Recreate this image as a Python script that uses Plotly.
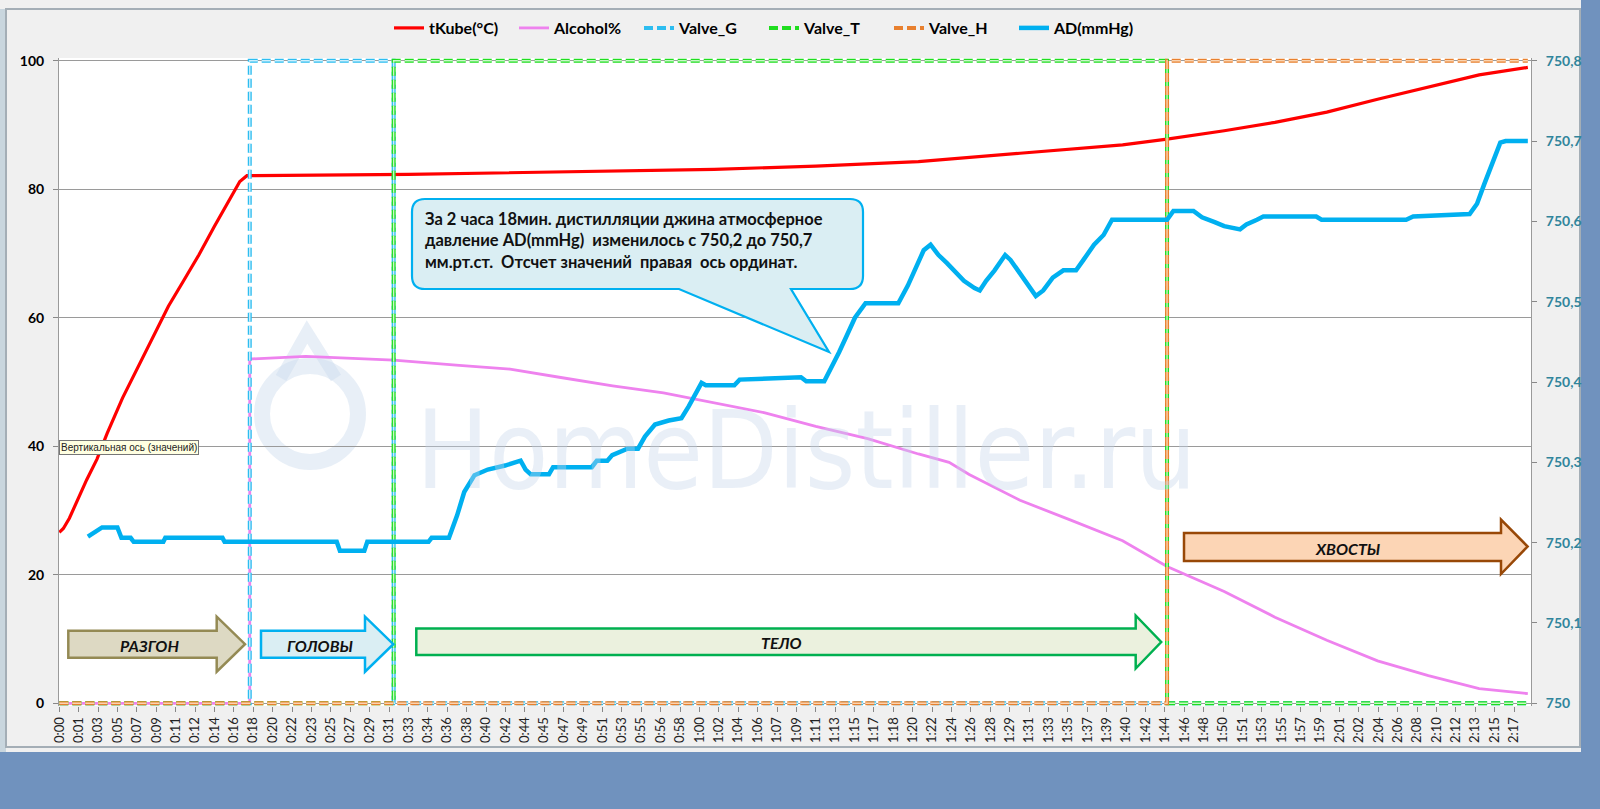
import plotly.graph_objects as go

# ---------------- data ----------------
# x-axis category labels (one label every 11th 10-second sample = 110 s)
time_labels = ["0:00","0:01","0:03","0:05","0:07","0:09","0:11","0:12","0:14","0:16",
 "0:18","0:20","0:22","0:23","0:25","0:27","0:29","0:31","0:33","0:34","0:36","0:38",
 "0:40","0:42","0:44","0:45","0:47","0:49","0:51","0:53","0:55","0:56","0:58","1:00",
 "1:02","1:04","1:06","1:07","1:09","1:11","1:13","1:15","1:17","1:18","1:20","1:22",
 "1:24","1:26","1:28","1:29","1:31","1:33","1:35","1:37","1:39","1:40","1:42","1:44",
 "1:46","1:48","1:50","1:51","1:53","1:55","1:57","1:59","2:01","2:02","2:04","2:06",
 "2:08","2:10","2:12","2:13","2:15","2:17"]
label_step_min = 110 / 60

# tKube (°C) — time in minutes
tkube_t = [0, 0.38, 0.95, 1.63, 2.59, 3.56, 4.52, 5.97, 7.42, 8.86, 10.31, 11.76, 13.2,
           14.65, 16.09, 17.06, 17.73, 18.5, 33.0, 52.3, 61.9, 71.5, 81.2, 90.8, 95.6,
           100.5, 104.7, 110.1, 114.9, 119.8, 124.6, 129.4, 134.2, 138.8]
tkube = [26.6, 27.2, 28.8, 31.3, 34.8, 38.0, 42.0, 47.5, 52.3, 57.0, 61.8, 65.8, 69.8,
         74.2, 78.5, 81.2, 82.1, 82.1, 82.3, 82.8, 83.1, 83.6, 84.3, 85.6, 86.3,
         86.9, 87.8, 89.1, 90.4, 92.0, 94.0, 95.9, 97.8, 98.95]

# Alcohol %
alc_t = [0, 18.0, 18.0, 18.3, 23.3, 31.6, 37.8, 42.6, 47.4, 52.3, 57.1, 61.9, 66.7, 71.5,
         76.4, 81.2, 84.1, 86.0, 90.8, 95.6, 100.5, 104.7, 110.1, 114.9, 119.8, 124.6,
         129.4, 134.2, 138.8]
alc = [0, 0, 53.6, 53.6, 54.0, 53.4, 52.6, 52.0, 50.7, 49.4, 48.3, 46.7, 45.2, 43.1,
       41.2, 38.8, 37.5, 35.6, 31.6, 28.5, 25.3, 21.3, 17.4, 13.4, 9.8, 6.6,
       4.3, 2.3, 1.5]

# Valves (0 = closed, 100 = open)
valve_g_t = [0, 18.0, 18.0, 31.6, 31.6, 138.8]
valve_g = [0, 0, 100, 100, 0, 0]
valve_t_t = [0, 31.6, 31.6, 104.7, 104.7, 138.8]
valve_t = [0, 0, 100, 100, 0, 0]
valve_h_t = [0, 104.7, 104.7, 138.8]
valve_h = [0, 0, 100, 100]

# Atmospheric pressure AD (mmHg), right axis
ad_t = [2.70, 3.27, 4.04, 5.49, 5.87, 6.74, 7.03, 9.83, 10.02, 15.42, 15.62, 26.22, 26.52,
        28.83, 29.11, 34.9, 35.19, 36.83, 37.6, 38.27, 39.24, 40.5, 42.13, 43.6, 44.07,
        44.55, 46.28, 46.67, 50.33, 50.8, 51.8, 52.26, 53.7, 54.7, 55.35, 56.3, 57.6,
        58.8, 59.5, 60.7, 61.1, 63.8, 64.3, 70.1, 70.6, 72.3, 73.0, 73.7, 74.4, 75.2,
        76.2, 79.3, 80.2, 81.0, 81.7, 82.35, 83.1, 83.9, 84.6, 85.5, 86.5, 87.0, 87.6,
        88.4, 89.4, 89.9, 90.6, 91.3, 92.3, 93.0, 93.9, 94.9, 96.1, 96.8, 97.8, 98.7,
        99.5, 104.7, 105.3, 107.2, 108.0, 109.2, 110.1, 111.6, 112.2, 113.2, 113.8,
        118.8, 119.3, 127.3, 127.96, 133.3, 134.0, 134.7, 135.4, 136.2, 136.7, 138.8]
ad = [750.2075, 750.2126, 750.219, 750.219, 750.206, 750.206, 750.201, 750.201, 750.206,
      750.206, 750.201, 750.201, 750.190, 750.190, 750.201, 750.201, 750.206, 750.206,
      750.234, 750.263, 750.284, 750.291, 750.296, 750.302, 750.291, 750.285, 750.285,
      750.294, 750.294, 750.302, 750.302, 750.309, 750.317, 750.317, 750.332, 750.347,
      750.352, 750.355, 750.370, 750.399, 750.396, 750.396, 750.403, 750.406, 750.401,
      750.401, 750.418, 750.437, 750.457, 750.480, 750.498, 750.498, 750.520, 750.543,
      750.564, 750.571, 750.558, 750.548, 750.539, 750.526, 750.517, 750.514, 750.526,
      750.539, 750.558, 750.552, 750.539, 750.526, 750.507, 750.514, 750.530, 750.539,
      750.539, 750.552, 750.571, 750.583, 750.602, 750.602, 750.613, 750.613, 750.605,
      750.599, 750.594, 750.590, 750.596, 750.602, 750.606, 750.606, 750.602, 750.602,
      750.606, 750.609, 750.622, 750.647, 750.672, 750.698, 750.700, 750.700]

left_ticks = [0, 20, 40, 60, 80, 100]
right_ticks = [750, 750.1, 750.2, 750.3, 750.4, 750.5, 750.6, 750.7, 750.8]
right_tick_text = ["750", "750,1", "750,2", "750,3", "750,4", "750,5", "750,6", "750,7", "750,8"]

# ---------------- layout helpers ----------------
W, H = 1600, 809
ML, MR, MT, MB = 59, 69, 58, 103
PW = W - ML - MR
PH = H - MT - MB


def px(x):
    return (x - ML) / PW


def py(y):
    return (H - MB - y) / PH


def P(x, y):
    return f"{px(x):.5f},{py(y):.5f}"


def poly_path(pts, close=True):
    return "M" + " L".join(P(x, y) for x, y in pts) + (" Z" if close else "")


def arrow_path(l, hs, bt, bb, ht, hb, tx, ty):
    return poly_path([(l, bt), (hs, bt), (hs, ht), (tx, ty), (hs, hb), (hs, bb), (l, bb)])


def callout_path(l, r, t, b, rad, p1, p2, tip):
    s = "M" + P(l + rad, t)
    s += " L" + P(r - rad, t) + " Q" + P(r, t) + " " + P(r, t + rad)
    s += " L" + P(r, b - rad) + " Q" + P(r, b) + " " + P(r - rad, b)
    s += " L" + P(p2, b) + " L" + P(*tip) + " L" + P(p1, b)
    s += " L" + P(l + rad, b) + " Q" + P(l, b) + " " + P(l, b - rad)
    s += " L" + P(l, t + rad) + " Q" + P(l, t) + " " + P(l + rad, t) + " Z"
    return s


FONT = "Lato, 'Open Sans', sans-serif"

fig = go.Figure()

fig.add_trace(go.Scatter(x=tkube_t, y=tkube, name="tKube(°C)", mode="lines",
                         line=dict(color="#FF0000", width=3.2)))
fig.add_trace(go.Scatter(x=alc_t, y=alc, name="Alcohol%", mode="lines",
                         line=dict(color="#EE82EE", width=2.8)))

valves = [("Valve_G", valve_g_t, valve_g, "#2DBDF0", "#CDEFFC"),
          ("Valve_T", valve_t_t, valve_t, "#1FDD1F", "#C8F7C8"),
          ("Valve_H", valve_h_t, valve_h, "#E8802E", "#FAD3B0")]
for name, vt, vv, c_out, c_in in valves:
    fig.add_trace(go.Scatter(x=vt, y=vv, name=name, mode="lines",
                             line=dict(color=c_out, width=4, dash="9px,4px")))
    fig.add_trace(go.Scatter(x=vt, y=vv, name=name, mode="lines", showlegend=False,
                             hoverinfo="skip",
                             line=dict(color=c_in, width=1.4, dash="9px,4px")))

fig.add_trace(go.Scatter(x=ad_t, y=ad, name="AD(mmHg)", mode="lines", yaxis="y2",
                         line=dict(color="#00B0F0", width=4.5)))

tick_pos = [i * label_step_min for i in range(len(time_labels))]

ext = 0.42
fig.update_layout(
    width=W, height=H,
    margin=dict(l=ML, r=MR, t=MT, b=MB, autoexpand=False),
    paper_bgcolor="#F0F0F0",
    plot_bgcolor="#FFFFFF",
    font=dict(family=FONT, color="#000000"),
    showlegend=True,
    hovermode=False,
    legend=dict(orientation="h", x=px(764), xanchor="center", y=py(28), yanchor="middle",
                bgcolor="rgba(0,0,0,0)", font=dict(family=FONT, size=16, weight="bold"),
                itemwidth=30, entrywidth=80, entrywidthmode="pixels", tracegroupgap=0),
    xaxis=dict(range=[-0.03, 139.1], tickmode="array", tickvals=tick_pos, ticktext=time_labels,
               tickangle=-90, tickfont=dict(family=FONT, size=13, color="#222222"),
               ticks="outside", ticklen=5, tickcolor="#888888", showgrid=False,
               showline=False, zeroline=False),
    yaxis=dict(range=[-ext, 100 + ext], tickmode="array", tickvals=left_ticks,
               tickfont=dict(family=FONT, size=14, weight="bold", color="#000000"),
               ticks="outside", ticklen=5, tickcolor="#888888", ticklabelstandoff=6,
               showgrid=True, gridcolor="#9A9A9A", gridwidth=1,
               zeroline=True, zerolinecolor="#9A9A9A", zerolinewidth=1,
               showline=True, linecolor="#9A9A9A", linewidth=1),
    yaxis2=dict(range=[750 - ext * 0.008, 750.8 + ext * 0.008], overlaying="y", side="right",
                tickmode="array", tickvals=right_ticks, ticktext=right_tick_text,
                tickfont=dict(family=FONT, size=14, weight="bold", color="#31859C"),
                ticks="outside", ticklen=5, tickcolor="#888888", ticklabelstandoff=6,
                showgrid=False, zeroline=False, showline=True, linecolor="#9A9A9A", linewidth=1),
)

shapes = []
# window/background frame
shapes.append(dict(type="rect", xref="paper", yref="paper", x0=px(1581), x1=px(1600),
                   y0=py(0), y1=py(809), fillcolor="#7092BE", line=dict(width=0), layer="below"))
shapes.append(dict(type="rect", xref="paper", yref="paper", x0=px(0), x1=px(1600),
                   y0=py(752), y1=py(809), fillcolor="#7092BE", line=dict(width=0), layer="below"))
shapes.append(dict(type="rect", xref="paper", yref="paper", x0=px(0), x1=px(6),
                   y0=py(9), y1=py(752), fillcolor="#C9D6DE", line=dict(width=0), layer="below"))
shapes.append(dict(type="rect", xref="paper", yref="paper", x0=px(6), x1=px(1580),
                   y0=py(9), y1=py(747), fillcolor="rgba(0,0,0,0)",
                   line=dict(color="#A4AEB6", width=2), layer="below"))
# watermark drop logo
shapes.append(dict(type="circle", xref="paper", yref="paper", x0=px(262), x1=px(358),
                   y0=py(462), y1=py(366), fillcolor="rgba(0,0,0,0)",
                   line=dict(color="rgba(205,220,238,0.45)", width=16), layer="below"))
shapes.append(dict(type="path", xref="paper", yref="paper",
                   path=poly_path([(281, 378), (307, 332), (336, 378)], close=False),
                   line=dict(color="rgba(205,220,238,0.45)", width=12), layer="below"))
# callout
shapes.append(dict(type="path", xref="paper", yref="paper",
                   path=callout_path(412, 863, 199, 289, 13, 679, 791, (829, 352)),
                   fillcolor="#DAEEF3", line=dict(color="#00B0F0", width=2.2), layer="above"))
# phase arrows
shapes.append(dict(type="path", xref="paper", yref="paper",
                   path=arrow_path(68.3, 216.7, 630.7, 657.7, 616.7, 671.7, 245, 644.2),
                   fillcolor="#DDD9C3", line=dict(color="#948A54", width=2.5), layer="above"))
shapes.append(dict(type="path", xref="paper", yref="paper",
                   path=arrow_path(261, 365, 630.7, 657.7, 616.7, 671.7, 393.3, 644.2),
                   fillcolor="#DAEEF3", line=dict(color="#00B0F0", width=2.5), layer="above"))
shapes.append(dict(type="path", xref="paper", yref="paper",
                   path=arrow_path(416.3, 1135.7, 628.5, 655, 615.5, 668.5, 1161.2, 642),
                   fillcolor="#EBF1DE", line=dict(color="#00B050", width=2.5), layer="above"))
shapes.append(dict(type="path", xref="paper", yref="paper",
                   path=arrow_path(1184, 1501, 533, 561, 519.5, 574, 1527.6, 546.5),
                   fillcolor="#FCD5B5", line=dict(color="#984807", width=2.5), layer="above"))
fig.update_layout(shapes=shapes)

ann = []
ann.append(dict(text="HomeDistiller.ru", xref="paper", yref="paper", x=px(806), y=py(450),
                xanchor="center", yanchor="middle", showarrow=False,
                font=dict(family="'Liberation Sans Narrow', 'DejaVu Sans Condensed', sans-serif",
                          size=108, color="rgba(196,212,234,0.38)")))
ann.append(dict(text="За 2 часа 18мин. дистилляции джина атмосферное<br>"
                     "давление AD(mmHg)  изменилось с 750,2 до 750,7<br>"
                     "мм.рт.ст.  Отсчет значений  правая  ось ординат.",
                xref="paper", yref="paper", x=px(423), y=py(240), xanchor="left",
                yanchor="middle", align="left", showarrow=False,
                font=dict(family=FONT, size=16.5, weight="bold", color="#111111")))
for txt, cx, cy in [("РАЗГОН", 149, 645), ("ГОЛОВЫ", 320, 645), ("ТЕЛО", 781, 642),
                    ("ХВОСТЫ", 1348, 548)]:
    ann.append(dict(text=txt, xref="paper", yref="paper", x=px(cx), y=py(cy),
                    xanchor="center", yanchor="middle", showarrow=False,
                    font=dict(family=FONT, size=16, weight="bold", style="italic",
                              color="#111111")))
ann.append(dict(text="Вертикальная ось (значений)", xref="paper", yref="paper",
                x=px(58.5), y=py(447), xanchor="left", yanchor="middle", showarrow=False,
                bgcolor="#FFFFE1", bordercolor="#767676", borderwidth=1, borderpad=1,
                font=dict(family="'Liberation Sans', Arial, sans-serif", size=10,
                          color="#222222")))
fig.update_layout(annotations=ann)

fig.write_html("out.html", config={"displayModeBar": False},
               post_script="document.body.style.margin='0';")
